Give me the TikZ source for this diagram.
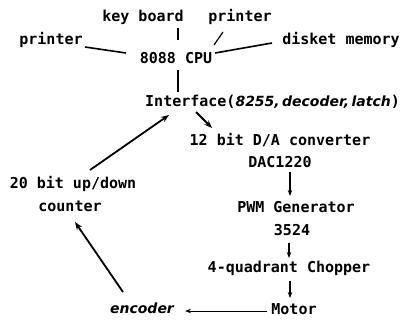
\documentclass[tikz,border=0pt]{standalone}
\usepackage{fontspec}
\setmainfont{DejaVu Sans Mono}
\newfontfamily\handfont{DejaVu Sans}
\usetikzlibrary{arrows.meta}
\newcommand\handtext[1]{{\handfont\bfseries\itshape\fontsize{14}{14}\selectfont #1}}
\begin{document}
\begin{tikzpicture}[x=1pt,y=-1pt,
  lbl/.style={font=\fontsize{15}{15}\selectfont\bfseries, inner sep=0pt},
  ln/.style={line width=1.6pt},
  thinln/.style={line width=1.2pt},
  arr/.style={line width=1.8pt,-{Stealth[length=8pt,width=6pt]}},
  varr/.style={line width=1.2pt,-{Stealth[length=6pt,width=4.5pt]}},
  harr/.style={line width=0.9pt,-{Stealth[length=6pt,width=4.5pt]}}]
\useasboundingbox (0,0) rectangle (407,322);
% nodes
\node[lbl] (kb)  at (143,17) {key board};
\node[lbl] (pr2) at (240,17) {printer};
\node[lbl] (pr1) at (51,40) {printer};
\node[lbl] (dm)  at (341,40) {disket memory};
\node[lbl] (cpu) at (176,58) {8088 CPU};
\node[lbl,anchor=west] (ifc) at (145,102) {Interface(\handtext{8255,\,decoder,\,latch})};
\node[lbl] (dac1) at (280,140) {12 bit D/A converter};
\node[lbl] (dac2) at (280,162) {DAC1220};
\node[lbl] (cnt1) at (73,184) {20 bit up/down};
\node[lbl] (cnt2) at (70,206) {counter};
\node[lbl] (pwm1) at (296,207) {PWM Generator};
\node[lbl] (pwm2) at (292,230) {3524};
\node[lbl] (chop) at (289,268) {4-quadrant Chopper};
\node[lbl] (mot)  at (294,309) {Motor};
\node[inner sep=0pt] (enc) at (142,308) {\handtext{encoder}};
% connector end points
\coordinate (p1a) at (85,47);   \coordinate (p1b) at (126,53);
\coordinate (kba) at (178,28);  \coordinate (kbb) at (178,40);
\coordinate (p2a) at (223,32);  \coordinate (p2b) at (214,45);
\coordinate (dma) at (272,43);  \coordinate (dmb) at (215,53);
\coordinate (cpa) at (178,70);  \coordinate (cpb) at (178,92);
\coordinate (ca)  at (90,170);  \coordinate (cb)  at (169,115);
\coordinate (ia)  at (196,112); \coordinate (ib)  at (212,128);
\coordinate (da)  at (290,172); \coordinate (db)  at (290,196);
\coordinate (pa)  at (289,243); \coordinate (pb)  at (289,258);
\coordinate (cha) at (290,281); \coordinate (chb) at (290,298);
\coordinate (ma)  at (267,311); \coordinate (mb)  at (185,311);
\coordinate (ea)  at (123,292); \coordinate (eb)  at (75,222);
% connectors
\draw[ln] (p1a) -- (p1b);
\draw[thinln] (kba) -- (kbb);
\draw[thinln] (p2a) -- (p2b);
\draw[ln] (dma) -- (dmb);
\draw[thinln] (cpa) -- (cpb);
\draw[arr] (ca) -- (cb);
\draw[arr] (ia) -- (ib);
\draw[varr] (da) -- (db);
\draw[varr] (pa) -- (pb);
\draw[varr] (cha) -- (chb);
\draw[harr] (ma) -- (mb);
\draw[arr] (ea) -- (eb);
\end{tikzpicture}
\end{document}
